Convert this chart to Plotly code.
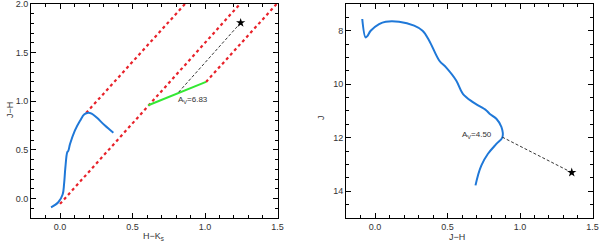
import plotly.graph_objects as go

# ---- Left panel: colour-colour diagram ----
cc_hk = [-0.062, -0.012, 0.018, 0.028, 0.037, 0.050, 0.057, 0.069, 0.103, 0.138,
         0.168, 0.195, 0.218, 0.253, 0.310, 0.368]
cc_jh = [-0.09, -0.038, 0.041, 0.15, 0.32, 0.477, 0.49, 0.56, 0.70, 0.80,
         0.866, 0.883, 0.873, 0.832, 0.75, 0.677]

# reddening band lines (start, end)
red1_hk = [0.18, 0.862]
red1_jh = [0.88, 2.0]
red2_hk = [0.0, 1.241]
red2_jh = [-0.055, 2.0]
red3_hk = [1.007, 1.494]
red3_jh = [1.199, 2.0]

green_hk = [0.609, 1.007]
green_jh = [0.959, 1.199]

star1_hk = [1.246]
star1_jh = [1.807]
deredden1_hk = [1.246, 0.816]
deredden1_jh = [1.807, 1.09]
av1_label = "A<sub>V</sub>=6.83"

# ---- Right panel: colour-magnitude diagram ----
cmd_jh = [-0.088, -0.065, -0.053, -0.03, 0.028, 0.074, 0.166, 0.27, 0.328, 0.374,
          0.444, 0.49, 0.56, 0.606, 0.675, 0.768, 0.79, 0.837, 0.872, 0.879,
          0.837, 0.779, 0.733, 0.71, 0.693]
cmd_j = [7.56, 8.25, 8.2, 8.0, 7.75, 7.66, 7.66, 7.81, 8.0, 8.37,
         9.12, 9.37, 9.86, 10.36, 10.67, 10.98, 11.1, 11.29, 11.6, 11.98,
         12.23, 12.6, 13.04, 13.41, 13.78]
star2_jh = [1.357]
star2_j = [13.3]
deredden2_jh = [1.357, 0.879]
deredden2_j = [13.3, 11.98]
av2_label = "A<sub>V</sub>=4.50"

blue = "#1f78d8"
red = "#e8222a"
green = "#33e833"
txt = "#333333"

fig = go.Figure()
for hx, hy in [(red1_hk, red1_jh), (red2_hk, red2_jh), (red3_hk, red3_jh)]:
    fig.add_trace(go.Scatter(x=hx, y=hy, mode="lines", xaxis="x", yaxis="y",
                             line=dict(color=red, width=2.2, dash="dot")))
fig.add_trace(go.Scatter(x=cc_hk, y=cc_jh, mode="lines", xaxis="x", yaxis="y",
                         line=dict(color=blue, width=2, shape="spline")))
fig.add_trace(go.Scatter(x=green_hk, y=green_jh, mode="lines", xaxis="x", yaxis="y",
                         line=dict(color=green, width=2)))
fig.add_trace(go.Scatter(x=deredden1_hk, y=deredden1_jh, mode="lines", xaxis="x", yaxis="y",
                         line=dict(color="black", width=0.8, dash="3px,2px")))
fig.add_trace(go.Scatter(x=star1_hk, y=star1_jh, mode="markers", xaxis="x", yaxis="y",
                         marker=dict(symbol="star", color="black", size=7)))

fig.add_trace(go.Scatter(x=cmd_jh, y=cmd_j, mode="lines", xaxis="x2", yaxis="y2",
                         line=dict(color=blue, width=2, shape="spline")))
fig.add_trace(go.Scatter(x=deredden2_jh, y=deredden2_j, mode="lines", xaxis="x2", yaxis="y2",
                         line=dict(color="black", width=0.8, dash="3px,2px")))
fig.add_trace(go.Scatter(x=star2_jh, y=star2_j, mode="markers", xaxis="x2", yaxis="y2",
                         marker=dict(symbol="star", color="black", size=7)))

axis_common = dict(showline=True, linecolor="black", linewidth=1, mirror="allticks",
                   ticks="inside", ticklen=5, tickcolor="black", showgrid=False,
                   zeroline=False, tickfont=dict(size=9, color=txt), automargin=False,
                   ticklabeloverflow="allow")
minor = dict(ticks="inside", ticklen=3, tickcolor="black")

fig.update_layout(
    width=600, height=244, margin=dict(l=0, r=0, t=0, b=0),
    paper_bgcolor="white", plot_bgcolor="white", showlegend=False,
    font=dict(family="Liberation Sans, Arial, sans-serif", size=9, color=txt),
    xaxis=dict(domain=[0.0517, 0.4625], range=[-0.2, 1.5001], tickvals=[0, 0.5, 1.0, 1.5],
               tickformat=".1f", minor=dict(dtick=0.1, **minor), anchor="y", **axis_common),
    yaxis=dict(domain=[0.1066, 0.9836], range=[-0.2, 2.0001], tickvals=[0, 0.5, 1.0, 1.5, 2.0],
               tickformat=".1f", minor=dict(dtick=0.1, **minor), anchor="x", **axis_common),
    xaxis2=dict(domain=[0.5767, 0.9875], range=[-0.2, 1.5001], tickvals=[0, 0.5, 1.0, 1.5],
                tickformat=".1f", minor=dict(dtick=0.1, **minor), anchor="y2", **axis_common),
    yaxis2=dict(domain=[0.1066, 0.9836], range=[15, 7], tickvals=[8, 10, 12, 14],
                minor=dict(dtick=0.5, **minor), anchor="x2", **axis_common),
    annotations=[
        dict(x=0.80, y=1.01, xref="x", yref="y", text=av1_label, showarrow=False,
             xanchor="left", yanchor="middle", font=dict(size=8, color=txt)),
        dict(x=0.82, y=11.9, xref="x2", yref="y2", text=av2_label, showarrow=False,
             xanchor="right", yanchor="middle", font=dict(size=8, color=txt)),
        dict(x=153 / 600, y=0.0, xref="paper", yref="paper", text="H−K<sub>s</sub>",
             showarrow=False, xanchor="center", yanchor="bottom", font=dict(size=9, color=txt)),
        dict(x=10 / 600, y=1 - 110 / 244, xref="paper", yref="paper", text="J−H",
             showarrow=False, textangle=-90, xanchor="center", yanchor="middle",
             font=dict(size=9, color=txt)),
        dict(x=457 / 600, y=0.0, xref="paper", yref="paper", text="J−H",
             showarrow=False, xanchor="center", yanchor="bottom", font=dict(size=9, color=txt)),
        dict(x=321 / 600, y=1 - 118 / 244, xref="paper", yref="paper", text="J",
             showarrow=False, textangle=-90, xanchor="center", yanchor="middle",
             font=dict(size=9, color=txt)),
    ],
)

fig.write_html("out.html", config={"displayModeBar": False, "staticPlot": True},
               post_script="document.body.style.margin='0';document.body.style.overflow='hidden';")
